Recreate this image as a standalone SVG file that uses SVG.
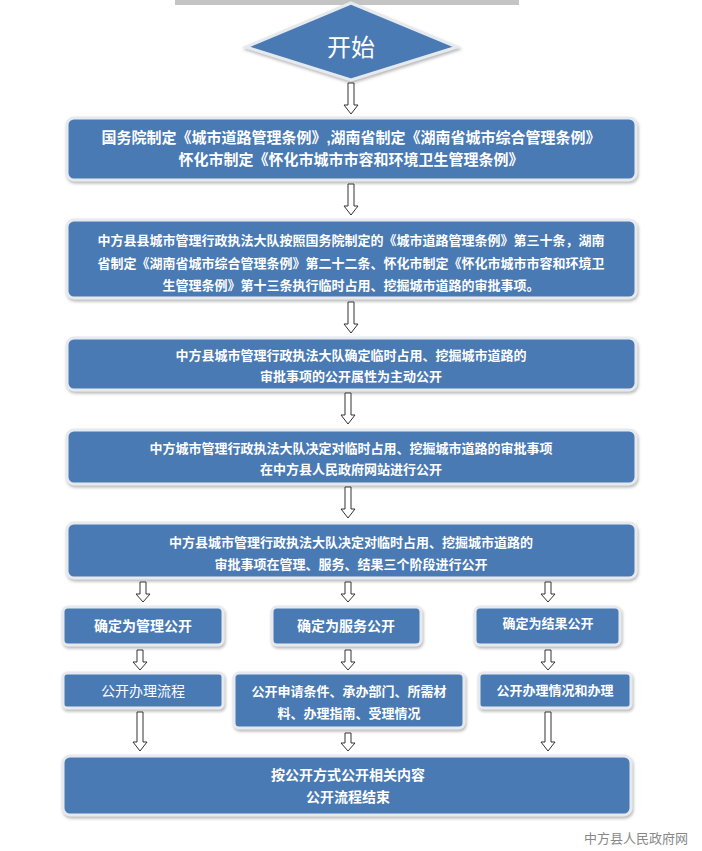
<svg xmlns="http://www.w3.org/2000/svg" width="702" height="851" viewBox="0 0 702 851">
<style>
.b{fill:#4a7ab4;stroke:#e6e9ee;stroke-width:3;filter:url(#sh)}
.t{fill:#fff;font-family:"Liberation Sans","Noto Sans CJK SC",sans-serif;font-weight:bold;text-anchor:middle}
.a{fill:#fff;stroke:#333;stroke-width:1}
</style>
<defs><filter id="sh" x="-5%" y="-20%" width="110%" height="140%"><feDropShadow dx="1" dy="2" stdDeviation="1.5" flood-color="#888" flood-opacity="0.6"/></filter></defs>
<rect x="175" y="0" width="344" height="5" fill="#c4c4c4"/>
<g id="start"><polygon class="b" points="351,3 457,47 351,80 246,47"/><text x="351" y="56" class="t" font-size="24" font-weight="normal" style="font-weight:normal">开始</text></g>
<g id="n1"><rect class="b" x="67" y="118" width="569" height="62" rx="7"/><text class="t" font-size="15"><tspan x="351" y="143">国务院制定《城市道路管理条例》,湖南省制定《湖南省城市综合管理条例》</tspan><tspan x="351" y="165">怀化市制定《怀化市城市市容和环境卫生管理条例》</tspan></text></g>
<g id="n2"><rect class="b" x="67" y="220" width="569" height="78" rx="7"/><text class="t" font-size="13"><tspan x="351" y="245">中方县县城市管理行政执法大队按照国务院制定的《城市道路管理条例》第三十条，湖南</tspan><tspan x="351" y="268">省制定《湖南省城市综合管理条例》第二十二条、怀化市制定《怀化市城市市容和环境卫</tspan><tspan x="351" y="290">生管理条例》第十三条执行临时占用、挖掘城市道路的审批事项。</tspan></text></g>
<g id="n3"><rect class="b" x="67" y="338" width="569" height="52" rx="7"/><text class="t" font-size="13"><tspan x="351" y="360">中方县城市管理行政执法大队确定临时占用、挖掘城市道路的</tspan><tspan x="351" y="381">审批事项的公开属性为主动公开</tspan></text></g>
<g id="n4"><rect class="b" x="67" y="430" width="569" height="54" rx="7"/><text class="t" font-size="13"><tspan x="351" y="453">中方城市管理行政执法大队决定对临时占用、挖掘城市道路的审批事项</tspan><tspan x="351" y="474">在中方县人民政府网站进行公开</tspan></text></g>
<g id="n5"><rect class="b" x="67" y="523" width="569" height="55" rx="7"/><text class="t" font-size="13"><tspan x="351" y="547">中方县城市管理行政执法大队决定对临时占用、挖掘城市道路的</tspan><tspan x="351" y="569">审批事项在管理、服务、结果三个阶段进行公开</tspan></text></g>
<g id="m1"><rect class="b" x="63" y="607" width="160" height="38" rx="5"/><text class="t" x="143" y="631" font-size="14">确定为管理公开</text></g>
<g id="m2"><rect class="b" x="272" y="607" width="149" height="38" rx="5"/><text class="t" x="346" y="631" font-size="14">确定为服务公开</text></g>
<g id="m3"><rect class="b" x="475" y="607" width="145" height="38" rx="5"/><text class="t" x="548" y="628" font-size="13">确定为结果公开</text></g>
<g id="p1"><rect class="b" x="63" y="673" width="160" height="35" rx="4"/><text class="t" x="143" y="696" font-size="14" style="font-weight:normal">公开办理流程</text></g>
<g id="p2"><rect class="b" x="234" y="673" width="230" height="55" rx="5"/><text class="t" font-size="13"><tspan x="349" y="696">公开申请条件、承办部门、所需材</tspan><tspan x="349" y="718">料、办理指南、受理情况</tspan></text></g>
<g id="p3"><rect class="b" x="479" y="673" width="152" height="35" rx="4"/><text class="t" x="555" y="695" font-size="13">公开办理情况和办理</text></g>
<g id="end"><rect class="b" x="63" y="756" width="568" height="59" rx="7"/><text class="t" font-size="14"><tspan x="348" y="780">按公开方式公开相关内容</tspan><tspan x="348" y="802">公开流程结束</tspan></text></g>
<g id="connectors">
<path class="a" d="M348,83h6v22h4l-7,9l-7,-9h4z"/>
<path class="a" d="M348,184h6v22h4l-7,9l-7,-9h4z"/>
<path class="a" d="M348,302h6v22h4l-7,9l-7,-9h4z"/>
<path class="a" d="M345,393h6v22h4l-7,9l-7,-9h4z"/>
<path class="a" d="M345,487h6v22h4l-7,9l-7,-9h4z"/>
<path class="a" d="M140,582h6v12h4l-7,8l-7,-8h4z"/>
<path class="a" d="M345,582h6v12h4l-7,8l-7,-8h4z"/>
<path class="a" d="M545,582h6v12h4l-7,8l-7,-8h4z"/>
<path class="a" d="M137,650h6v12h4l-7,8l-7,-8h4z"/>
<path class="a" d="M345,650h6v12h4l-7,8l-7,-8h4z"/>
<path class="a" d="M545,650h6v12h4l-7,8l-7,-8h4z"/>
<path class="a" d="M137,712h6v30h4l-7,9l-7,-9h4z"/>
<path class="a" d="M345,733h6v10h4l-7,8l-7,-8h4z"/>
<path class="a" d="M545,712h6v30h4l-7,9l-7,-9h4z"/>
</g>
<text x="636" y="843" font-size="13" fill="#888" text-anchor="middle" font-family="Liberation Sans,Noto Sans CJK SC,sans-serif">中方县人民政府网</text>
</svg>
